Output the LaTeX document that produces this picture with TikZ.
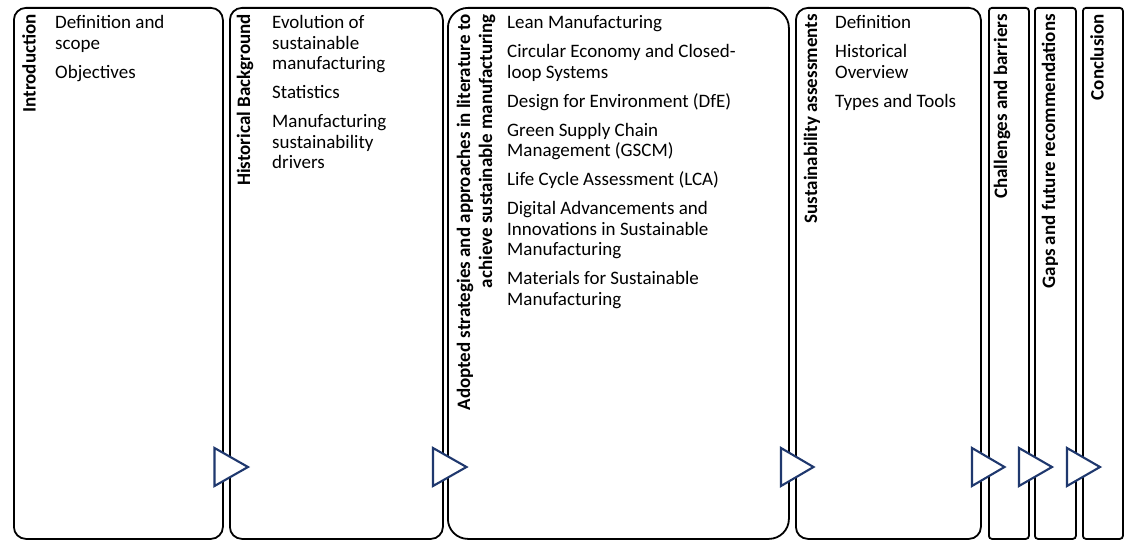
\documentclass[tikz,border=0pt]{standalone}
\usepackage{fontspec}
\setmainfont{Carlito}
\definecolor{navy}{RGB}{31,56,110}
\begin{document}
\begin{tikzpicture}[x=1pt,y=-1pt,
  panel/.style={draw=black, line width=1.8pt, fill=white, anchor=north west, inner sep=0pt, minimum height=531pt},
  heading/.style={rotate=90, anchor=east, inner sep=0pt, align=right,
    font=\fontsize{19}{22}\selectfont\bfseries},
  items/.style={anchor=north west, inner sep=0pt, align=left,
    font=\fontsize{19}{20.5}\selectfont},
  marker/.style={draw=navy, line width=2.1pt, fill=white, line join=miter},
]
\useasboundingbox (0,0) rectangle (1127,540);

% section panels
\node[panel, rounded corners=12pt, minimum width=209pt] (b1) at (13,7) {};
\node[panel, rounded corners=12pt, minimum width=213pt] (b2) at (229,7) {};
\node[panel, rounded corners=20pt, minimum width=341pt] (b3) at (447,7) {};
\node[panel, rounded corners=12pt, minimum width=185pt] (b4) at (795,7) {};
\node[panel, rounded corners=3pt, minimum width=40pt] (b5) at (988,7) {};
\node[panel, rounded corners=3pt, minimum width=41pt] (b6) at (1034,7) {};
\node[panel, rounded corners=3pt, minimum width=40pt] (b7) at (1082,7) {};

% vertical section titles
\node[heading] (t1) at (29,14) {Introduction};
\node[heading] (t2) at (245,14) {Historical Background};
\node[heading] (t3) at (476,14) {Adopted strategies and approaches in literature to\\achieve sustainable manufacturing};
\node[heading] (t4) at (812,14) {Sustainability assessments};
\node[heading] (t5) at (1002,14) {Challenges and barriers};
\node[heading] (t6) at (1050,14) {Gaps and future recommendations};
\node[heading] (t7) at (1097,14) {Conclusion};

% topic lists
\node[items] (l1) at (55,15.5) {Definition and\\scope\\[8.5pt]Objectives};
\node[items] (l2) at (272,15.5) {Evolution of\\sustainable\\manufacturing\\[8.5pt]Statistics\\[8.5pt]Manufacturing\\sustainability\\drivers};
\node[items] (l3) at (507,15.5) {Lean Manufacturing\\[8.5pt]Circular Economy and Closed-\\loop Systems\\[8.5pt]Design for Environment (DfE)\\[8.5pt]Green Supply Chain\\Management (GSCM)\\[8.5pt]Life Cycle Assessment (LCA)\\[8.5pt]Digital Advancements and\\Innovations in Sustainable\\Manufacturing\\[8.5pt]Materials for Sustainable\\Manufacturing};
\node[items] (l4) at (835,15.5) {Definition\\[8.5pt]Historical\\Overview\\[8.5pt]Types and Tools};

% flow markers between panels
\draw[marker] (214.5,448) -- (248,467) -- (214.5,486) -- cycle;
\draw[marker] (433,448) -- (466.5,467) -- (433,486) -- cycle;
\draw[marker] (781,448) -- (813.5,467) -- (781,486) -- cycle;
\draw[marker] (972,448) -- (1004.5,467) -- (972,486) -- cycle;
\draw[marker] (1019,448) -- (1052,467) -- (1019,486) -- cycle;
\draw[marker] (1067,448) -- (1100,467) -- (1067,486) -- cycle;
\end{tikzpicture}
\end{document}
